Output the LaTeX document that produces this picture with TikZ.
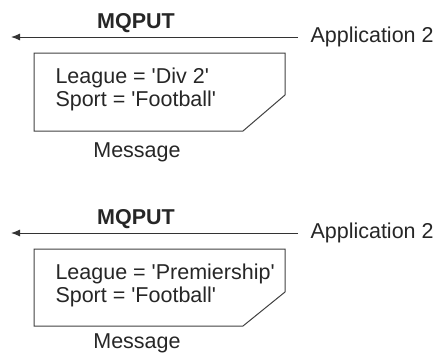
\documentclass[tikz,border=0pt]{standalone}
\usepackage{fontspec}
\setmainfont{Liberation Sans}
\usetikzlibrary{arrows.meta,positioning}

\newcommand{\sq}{\textquotesingle}

\begin{document}
\begin{tikzpicture}[x=1pt,y=-1pt,line width=1pt,
        every node/.style={inner sep=0pt,text=black!85},
        put/.style={draw=black!80,-{Latex[length=9pt,width=7pt]}},
        msgbox/.style={draw=black!75},
        lbl/.style={font=\fontsize{21.5}{23}\selectfont},
        call/.style={font=\fontsize{21.5}{23}\selectfont\bfseries}]
    \useasboundingbox (0,0) rectangle (439,354);
    % first put
    \coordinate (src_1) at (298,37);
    \coordinate (dst_1) at (11,37);
    \node[lbl, anchor=west] (app_1) at (310,37) {Application 2};
    \node[call] (put_1) at (136,23) {MQPUT};
    \draw[put] (src_1) -- (dst_1);
    \draw[msgbox] (34,53) coordinate (box_1) -- (285,53) -- (285,95) -- (243,131) -- (34,131) -- cycle;
    \node[lbl, align=left, anchor=west] (msg_1) at (55,89) {League = \sq Div 2\sq\\Sport = \sq Football\sq};
    \node[lbl] (name_1) at (137,152) {Message};
    % second put
    \coordinate (src_2) at (298,233);
    \coordinate (dst_2) at (11,233);
    \node[lbl, anchor=west] (app_2) at (310,233) {Application 2};
    \node[call] (put_2) at (136,219) {MQPUT};
    \draw[put] (src_2) -- (dst_2);
    \draw[msgbox] (34,249) coordinate (box_2) -- (285,249) -- (285,292) -- (243,326) -- (34,326) -- cycle;
    \node[lbl, align=left, anchor=west] (msg_2) at (55,285) {League = \sq Premiership\sq\\Sport = \sq Football\sq};
    \node[lbl, anchor=south] (name_2) at (137,353) {Message};
\end{tikzpicture}
\end{document}
